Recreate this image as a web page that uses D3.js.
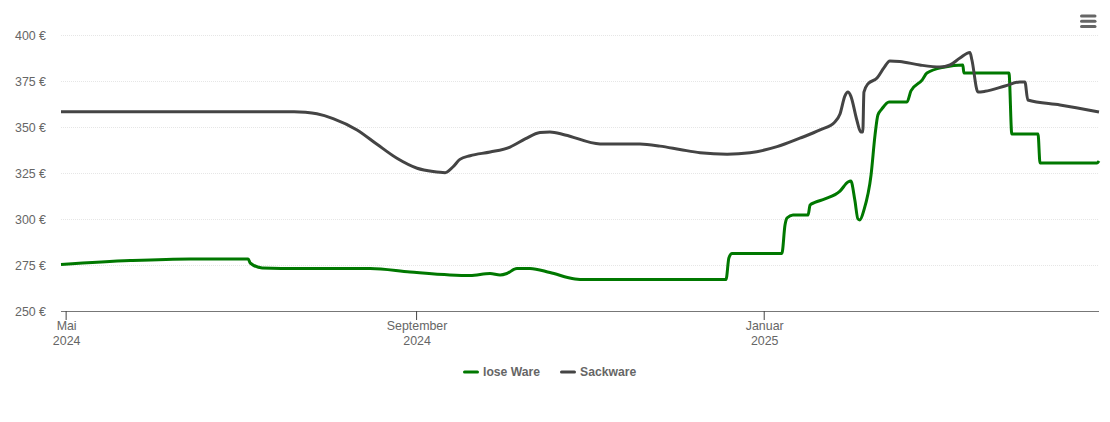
<!DOCTYPE html>
<html>
  <head>
    <meta charset="utf-8">
    <title></title>
    <script src="https://cdn.jsdelivr.net/npm/d3@7"></script>
    <style media="screen">
    html, body {margin:0; padding:0; background:#fff;}
    svg {display:block; font-family:"Liberation Sans", Arial, sans-serif;}
    </style>
    <script>
    // days counted from 1 May 2024
    var looseDays=[-1.8,22.5,43.5,63.9,64.6,68.8,82.1,106.7,120.7,134.7,141.8,148.8,152.3,154.7,158.2,162.8,169.8,178.6,182.1,204.9,231.6,232.6,233.7,243.5,251.2,252.3,253,255.1,260.4,261.1,262.8,266.3,271.6,274.4,275.4,276.8,277.9,278.6,280,282.5,283.9,284.9,286.3,288.8,295.1,296.5,300.4,302.1,308.4,314.7,315.1,330.9,331.9,341.1,341.8,361.8,362.5];
    var looseValues=[275.3,277.4,278.3,278.3,276.1,273.4,273.1,273.1,271.2,269.6,269.3,270.4,269.6,270.4,273.1,273.1,270.9,267.4,267.1,267.1,267.1,278.8,281.3,281.3,281.3,296.7,300.5,302.2,302.2,307.6,309,310.9,315.2,320.1,320.7,310.3,300,299.5,304.9,323.9,345.7,356.5,359.8,363.6,363.6,369.6,375.5,379.3,382.6,383.7,379.3,379.3,346.2,346.2,330.4,330.4,331.5];
    var sackDays=[-1.8,47,80,84,88,93.7,102.1,109.1,116.1,123.2,128.8,133,135.8,138.2,141.8,148.8,155.8,161.1,166.3,169.8,175.1,187.4,201.4,208.4,215.4,222.5,232,240,249.5,257.5,264.6,269.8,271.6,273.3,274.4,275.4,277.5,278.9,279.6,280,281.4,284.6,287,289.1,292.6,299.6,306.7,310.2,313.7,317.2,317.9,320,322.5,329.5,334.7,336.5,337.5,348.8,362.5];
    var sackValues=[358.3,358.3,358.3,358,357.2,354.6,348.4,340.6,333,327.6,325.8,325.2,328.4,332.4,334.4,336.4,339.1,343.5,347,347.3,345.7,340.8,340.7,339.6,337.8,336,335.2,336,339.3,343.9,348.4,352.7,357.1,366.8,369,366.8,353.8,347.3,347.3,369,373.4,376.6,382.1,385.9,385.6,383.7,382.6,383.7,387.5,390.5,386.4,369,369.4,372.3,374.5,374.5,364.7,362,358.2];
    var yTicks=[250,275,300,325,350,375,400];
    var monthTicks=[new Date(2024,4,1), new Date(2024,8,1), new Date(2025,0,1)];
    var monthLabels=[['Mai','2024'],['September','2024'],['Januar','2025']];
    var seriesNames=['lose Ware','Sackware'];
    var colors=['#007800','#444444'];

    window.onload=function (){
      var svg=d3.select('#svg1');

      var firstDay=new Date(2024,4,1);
      function toDate(d){
        return new Date(+firstDay+d*864e5);
      }

      var x=d3.scaleTime()
      .domain([toDate(-1.8), toDate(362.5)])
      .range([61, 1099]);
      var y=d3.scaleLinear()
      .domain([250, 400])
      .range([311, 35]);

      //grid
      svg.append('g')
      .selectAll('line')
      .data(yTicks.slice(1))
      .enter().append('line')
      .attr('x1', 61).attr('x2', 1099)
      .attr('y1', function (d){return y(d)+0.5;})
      .attr('y2', function (d){return y(d)+0.5;})
      .attr('stroke', '#e6e6e6')
      .attr('stroke-dasharray', '1,1');

      //y axis
      var yAxis=svg.append('g')
      .attr('transform', 'translate(46,1)')
      .call(d3.axisLeft(y).tickValues(yTicks).tickSize(0).tickPadding(0).tickFormat(function (d){return d+' €';}));
      yAxis.select('.domain').remove();
      yAxis.selectAll('text')
      .attr('font-size', 12.4)
      .attr('font-family', '"Liberation Sans", Arial, sans-serif')
      .attr('fill', '#666');

      //x axis
      var xAxis=svg.append('g')
      .attr('transform', 'translate(-0.5,311)')
      .call(d3.axisBottom(x).tickValues(monthTicks).tickSize(9).tickSizeOuter(0).tickFormat(''));
      xAxis.select('.domain').attr('stroke', '#777').attr('stroke-width', 1.2);
      xAxis.selectAll('.tick line').attr('stroke', '#444');
      xAxis.selectAll('.tick text').remove();
      xAxis.selectAll('.tick').each(function (d, i){
        var t=d3.select(this);
        monthLabels[i].forEach(function (s, j){
          t.append('text')
          .attr('x', 0.5)
          .attr('y', 19+j*15)
          .attr('text-anchor', 'middle')
          .attr('font-size', 12.4)
          .attr('font-family', '"Liberation Sans", Arial, sans-serif')
          .attr('fill', '#666')
          .text(s);
        });
      });

      //lines
      var lineGen=d3.line()
      .x(function (d){return x(toDate(d[0]));})
      .y(function (d){return y(d[1]);})
      .curve(d3.curveMonotoneX);

      [d3.zip(looseDays, looseValues), d3.zip(sackDays, sackValues)].forEach(function (pts, i){
        svg.append('path')
        .attr('d', lineGen(pts))
        .attr('fill', 'none')
        .attr('stroke', colors[i])
        .attr('stroke-width', 3)
        .attr('stroke-linejoin', 'round');
      });

      //legend
      var legendX=[463, 560];
      seriesNames.forEach(function (name, i){
        var g=svg.append('g').attr('transform', 'translate('+legendX[i]+',372)');
        g.append('line')
        .attr('x1', 1.5).attr('x2', 14.5)
        .attr('stroke', colors[i])
        .attr('stroke-width', 3)
        .attr('stroke-linecap', 'round');
        g.append('text')
        .attr('x', 20).attr('y', 4)
        .attr('font-size', 12.2)
        .attr('font-weight', 'bold')
        .attr('fill', '#666')
        .text(name);
      });

      //menu icon
      svg.append('g')
      .selectAll('rect')
      .data([0,1,2])
      .enter().append('rect')
      .attr('x', 1080).attr('width', 16.5)
      .attr('y', function (d){return 14.5+d*5.2;})
      .attr('height', 3)
      .attr('rx', 1.5)
      .attr('fill', '#666');
    };
    </script>
  </head>
  <body>
    <svg id="svg1" width="1110" height="422"></svg>
  </body>
</html>
